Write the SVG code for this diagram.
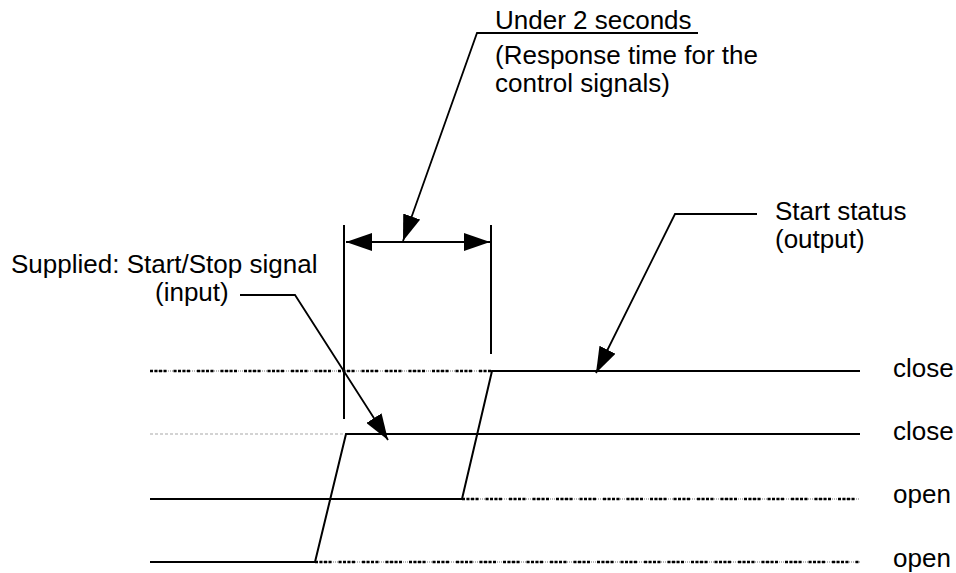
<svg xmlns="http://www.w3.org/2000/svg" width="956" height="573" viewBox="0 0 956 573">
<style>
  text { font-family: "Liberation Sans", Arial, sans-serif; font-size: 26px; fill: #000; }
  .sig { stroke: #000; stroke-width: 2; fill: none; }
  .dot-under { stroke: #b8b8b8; stroke-width: 2; fill: none; stroke-dasharray: 1 1; }
  .dot { stroke: #000; stroke-width: 2.5; fill: none; stroke-dasharray: 3 1.5 3 1.5 3 1.5 3 7; }
  .faint { stroke: #a8a8a8; stroke-width: 1.2; fill: none; stroke-dasharray: 3 2; }
  .lead { stroke: #000; stroke-width: 1.8; fill: none; }
  .mark { stroke: #000; stroke-width: 2; fill: none; }
</style>
<defs>
  <marker id="arrow" viewBox="0 0 26 18" refX="26" refY="9" markerWidth="26" markerHeight="18" markerUnits="userSpaceOnUse" orient="auto-start-reverse">
    <path d="M0,0 L26,9 L0,18 z" fill="#000"/>
  </marker>
</defs>

<g id="grid-lines">
  <line class="dot-under" x1="150" y1="371" x2="492" y2="371"/>
  <line class="dot" x1="150" y1="371" x2="492" y2="371"/>
  <line class="faint" x1="150" y1="434" x2="346" y2="434"/>
  <line class="dot-under" x1="462" y1="499" x2="860" y2="499"/>
  <line class="dot" x1="462" y1="499" x2="860" y2="499"/>
  <line class="dot-under" x1="315" y1="562" x2="860" y2="562"/>
  <line class="dot" x1="315" y1="562" x2="860" y2="562"/>
</g>

<g id="signal-input">
  <polyline class="sig" points="150,562 315,562 346,434 860,434"/>
</g>

<g id="signal-output">
  <polyline class="sig" points="150,499 462,499 492,371 860,371"/>
</g>

<g id="time-markers">
  <line class="mark" x1="344" y1="225" x2="344" y2="419"/>
  <line class="mark" x1="491" y1="225" x2="491" y2="354"/>
</g>

<g id="connectors">
  <line class="lead" x1="346" y1="242" x2="490" y2="242" marker-start="url(#arrow)" marker-end="url(#arrow)"/>
  <polyline class="lead" points="698,33 477,33 403,241" marker-end="url(#arrow)"/>
  <polyline class="lead" points="757,214 675,214 596,373" marker-end="url(#arrow)"/>
  <polyline class="lead" points="240,295 295,295 388,440" marker-end="url(#arrow)"/>
</g>

<g id="label-response">
  <text x="495" y="29">Under 2 seconds</text>
  <text x="495" y="64">(Response time for the</text>
  <text x="495" y="92">control signals)</text>
</g>

<g id="label-input">
  <text x="11" y="273">Supplied: Start/Stop signal</text>
  <text x="155" y="301">(input)</text>
</g>

<g id="label-output">
  <text x="775" y="220">Start status</text>
  <text x="775" y="248">(output)</text>
</g>

<g id="state-labels">
  <text x="893" y="377">close</text>
  <text x="893" y="440">close</text>
  <text x="893" y="503">open</text>
  <text x="893" y="567">open</text>
</g>
</svg>
